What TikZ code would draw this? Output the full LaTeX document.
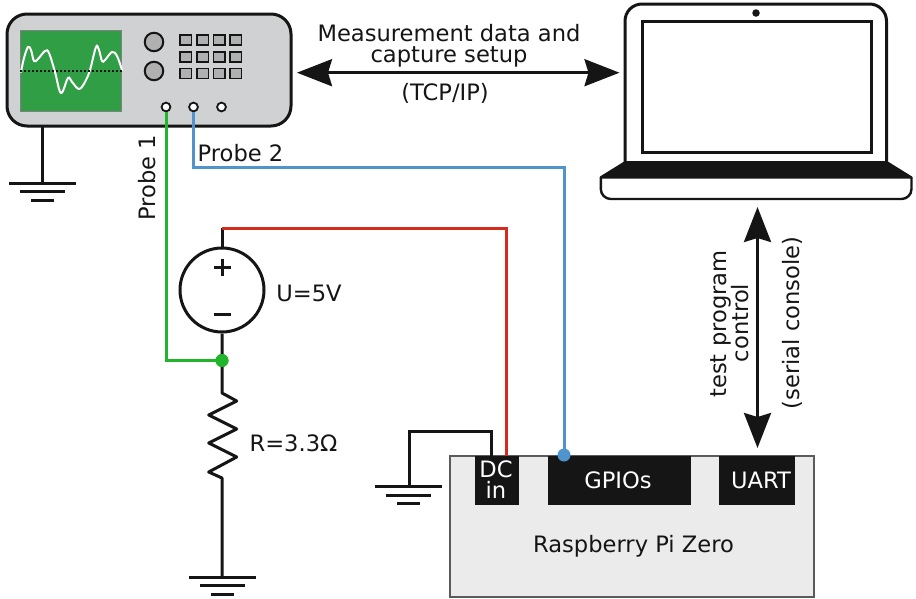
\documentclass[tikz,border=0pt]{standalone}
\usepackage{fontspec}
\setmainfont{DejaVu Sans}
\usetikzlibrary{arrows.meta}
\definecolor{ink}{HTML}{151515}
\definecolor{scopegray}{HTML}{D0D1D3}
\definecolor{btn}{HTML}{B0B0B0}
\definecolor{screen}{HTML}{2F9E44}
\definecolor{gwire}{HTML}{22B52C}
\definecolor{bwire}{HTML}{4F94CD}
\definecolor{rwire}{HTML}{D42B1E}
\definecolor{pifill}{HTML}{EBEBEB}
\tikzset{
  wire/.style={line width=3pt,ink},
  thick line/.style={line width=3pt,ink},
  bigarrow/.style={line width=3pt,ink,{Stealth[length=35pt,width=27pt,inset=4pt]}-{Stealth[length=35pt,width=27pt,inset=4pt]}},
  lbl/.style={inner sep=0pt,anchor=base,font=\fontsize{22.6}{25}\selectfont,text=ink},
  chip/.style={inner sep=0pt},
  port/.style={chip,fill=ink,text=white,draw=none},
  knob/.style={circle,draw=ink,line width=2pt,fill=btn,minimum size=18.5pt,inner sep=0pt},
  keybtn/.style={draw=ink,line width=1.6pt,fill=btn,minimum width=11.6pt,minimum height=10pt,inner sep=0pt},
  jack/.style={circle,draw=ink,line width=1.8pt,fill=white,minimum size=8.8pt,inner sep=0pt},
  gwiredot/.style={circle,fill=gwire,minimum size=13pt,inner sep=0pt},
  bwiredot/.style={circle,fill=bwire,minimum size=13pt,inner sep=0pt}
}
\begin{document}
\begin{tikzpicture}[x=1pt,y=-1pt]
\useasboundingbox (0,0) rectangle (916,598);
% oscilloscope
\draw[line width=3pt,draw=ink,fill=scopegray,rounded corners=20pt] (7,14) rectangle (291,126);
\node[draw=gray,fill=screen,line width=1pt,minimum width=101pt,minimum height=81pt,inner sep=0pt] (screenbox) at (71,71) {};
\draw[white,line width=2pt,line cap=round] plot[smooth,tension=0.6] coordinates {(21,72)(24,58)(28,47)(31,50)(34,61)(38,59)(45,51)(49,53)(55,72)(61,93)(68,78)(72,82)(79,89)(85,82)(90,70)(96,47)(99,50)(102,61)(105,60)(112,52)(117,56)(122,70)};
\draw[ink,line width=1.2pt,dash pattern=on 2pt off 2pt] (screenbox.west) -- (screenbox.east);
\node[knob] (k1) at (154,42) {};
\node[knob] (k2) at (154,71) {};
\foreach \xx [count=\i] in {185.5,202.5,219.2,235.8} \foreach \yy [count=\j] in {40,56.8,73.5}
  \node[keybtn] (b\i\j) at (\xx,\yy) {};
\node[jack] (j1) at (166,107) {};
\node[jack] (j2) at (193.5,107) {};
\node[jack] (j3) at (221.5,107) {};
% scope ground
\coordinate (gs) at (42,183);
\draw[wire] (42,126) -- (gs);
\draw[thick line] (9,183) -- (76,183) (20,191.5) -- (65,191.5) (31,200) -- (54,200);
% laptop
\draw[line width=3pt,draw=ink,fill=white,rounded corners=17pt] (625,162) -- (625,4) -- (886.5,4) -- (886.5,162);
\node[draw=ink,line width=3pt,minimum width=229pt,minimum height=131pt,inner sep=0pt] (lcd) at (756.5,86.5) {};
\node[circle,fill=ink,minimum size=7.5pt,inner sep=0pt] (cam) at (756,13) {};
\fill[ink] (625,161) -- (887,161) -- (912,176.5) -- (912,178.5) -- (600,178.5) -- (600,176.5) -- cycle;
\draw[line width=2.4pt,draw=ink,rounded corners=10pt] (600.8,177) -- (600.8,199) -- (911.5,199) -- (911.5,177);
% long arrows
\coordinate (al) at (297,72.7);
\coordinate (ar) at (619.5,72.7);
\draw[bigarrow] (al) -- (ar);
\coordinate (at) at (757.5,207);
\coordinate (ab) at (757.5,448);
\draw[bigarrow] (at) -- (ab);
% pi
\draw[draw=ink!70,line width=1.2pt,fill=pifill] (450,456) rectangle (814,597);
\node[port,minimum width=44pt,minimum height=49pt] (dc) at (497,480.5) {};
\node[port,minimum width=143pt,minimum height=49pt] (gpio) at (619.5,480.5) {};
\node[port,minimum width=76pt,minimum height=49pt] (uart) at (757,480.5) {};
% wires
\coordinate (vt) at (222,228);
\node[circle,draw=ink,line width=3pt,fill=white,minimum size=84pt,inner sep=0pt] (src) at (222,290) {};
\draw[wire] (vt) -- (src.north);
\draw[rwire,line width=3pt] (vt) -- (506,228) -- (506,456);
\node[gwiredot] (gd) at (222,360.5) {};
\draw[wire,line join=round] (src.south) -- (gd.center) -- (222,393) -- (236.7,401) -- (208.7,415) -- (236.7,429) -- (208.7,443) -- (236.7,457) -- (208.7,472) -- (222,478) -- (222,577);
\node[gwiredot] at (222,360.5) {};
\draw[gwire,line width=3pt] (j1.south) -- (166,360.5) -- (gd.center);
\draw[bwire,line width=3pt] (j2.south) -- (193.5,167) -- (564,167) -- (564,455);
\node[bwiredot] (bd) at (564,455) {};
\draw[wire] (491,456) -- (491,431) -- (409,431) -- (409,487);
\draw[thick line] (189,577) -- (256,577) (200,585.5) -- (245,585.5) (211,594) -- (234,594);
\draw[thick line] (375,486.5) -- (442,486.5) (386,495) -- (431,495) (397,503) -- (420,503);
\draw[thick line] (222,259) -- ++(0,17) (214,267.7) -- (231,267.7) (214,314) -- (231,314);
% labels
\node[lbl] (t1) at (449,41.5) {Measurement data and};
\node[lbl] (t2) at (449,62.5) {capture setup};
\node[lbl] (t3) at (445,100.7) {(TCP/IP)};
\node[lbl,rotate=90] (p1) at (155.5,178) {Probe 1};
\node[lbl] (p2) at (240.5,161) {Probe 2};
\node[lbl] (u) at (309,301) {U=5V};
\node[lbl] (r) at (293.5,451.7) {R=3.3Ω};
\node[lbl,rotate=90] (c1) at (726.5,324) {test program};
\node[lbl,rotate=90] (c2) at (748,323) {control};
\node[lbl,rotate=90] (c3) at (799,323) {(serial console)};
\node[lbl,text=white] (d1) at (496,477.5) {DC};
\node[lbl,text=white] (d2) at (496,498.5) {in};
\node[lbl,text=white] (d3) at (618,488.2) {GPIOs};
\node[lbl,text=white] (d4) at (761,488.2) {UART};
\node[lbl] (d5) at (633.5,552.7) {Raspberry Pi Zero};
\end{tikzpicture}
\end{document}
